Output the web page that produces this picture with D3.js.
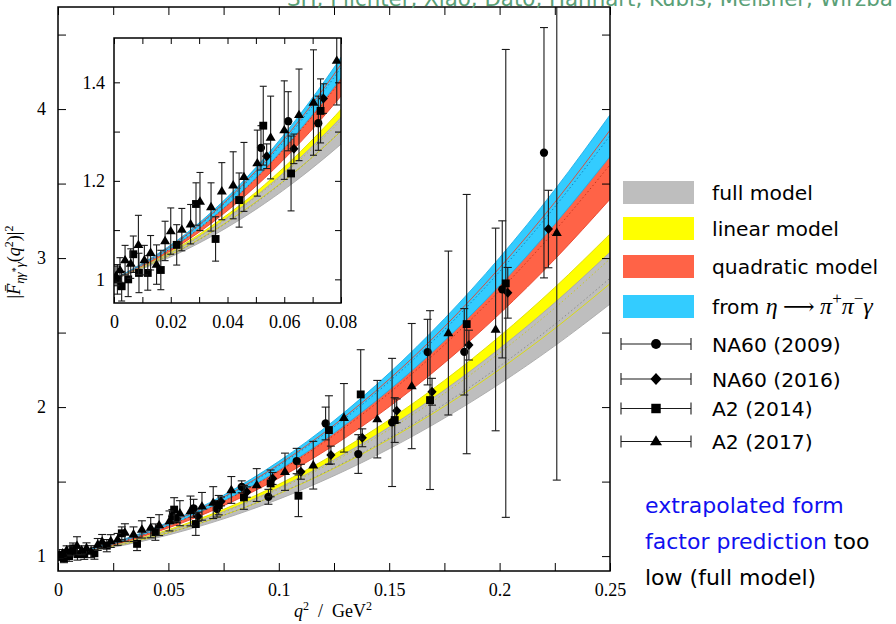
<!DOCTYPE html>
<meta charset="utf-8">
<title>eta transition form factor</title>
<style>

body {
  margin: 0;
  background: #fff;
  overflow: hidden;
}
svg { display: block; }
.tick text { font-family: "Liberation Serif", serif; font-size: 18px; fill: #000; }
.tick line { stroke: #000; stroke-width: 1; }

</style>
<body>
</body>
<script src="https://cdn.jsdelivr.net/npm/d3@7"></script>
<script>

var width = 896,
    height = 624;

// model bands, read at these q^2 values
var qGrid = [0, 0.025, 0.05, 0.075, 0.1, 0.125, 0.15, 0.175, 0.2, 0.225, 0.25];

// full model (grey)
var fullLo = [1, 1.059, 1.142, 1.250, 1.382, 1.539, 1.720, 1.926, 2.156, 2.411, 2.691];
var fullHi = [1, 1.070, 1.169, 1.299, 1.458, 1.647, 1.866, 2.114, 2.393, 2.701, 3.039];
// linear model (yellow)
var linLo = [1, 1.065, 1.157, 1.274, 1.418, 1.588, 1.784, 2.005, 2.253, 2.527, 2.828];
var linHi = [1, 1.073, 1.177, 1.314, 1.482, 1.683, 1.915, 2.179, 2.475, 2.803, 3.162];
// quadratic model (red)
var quadLo = [1, 1.076, 1.189, 1.338, 1.523, 1.744, 2.002, 2.296, 2.626, 2.992, 3.395];
var quadHi = [1, 1.088, 1.220, 1.396, 1.615, 1.879, 2.187, 2.539, 2.935, 3.374, 3.858];
// from eta -> pi+ pi- gamma (blue)
var dispLo = [1, 1.082, 1.206, 1.371, 1.577, 1.825, 2.114, 2.444, 2.815, 3.228, 3.682];
var dispHi = [1, 1.091, 1.227, 1.409, 1.636, 1.909, 2.228, 2.593, 3.003, 3.459, 3.961];

// data: [q^2, |F|^2, error]
var na60_2009 = [[0.0518,1.267,0.045],[0.0614,1.321,0.06],[0.0720,1.317,0.055],[0.0832,1.465,0.04],
  [0.0953,1.398,0.05],[0.1081,1.638,0.085],[0.1212,1.890,0.11],[0.1360,1.685,0.13],[0.1513,1.897,0.43],
  [0.1674,2.369,0.22],[0.1840,2.371,0.29],[0.2012,2.790,0.46],[0.2201,3.707,0.84]];
var na60_2016 = [[0.0538,1.250,0.025],[0.0634,1.265,0.03],[0.0738,1.367,0.03],[0.0855,1.430,0.035],
  [0.0972,1.521,0.04],[0.1100,1.566,0.05],[0.1236,1.678,0.06],[0.1378,1.794,0.06],[0.1534,1.975,0.08],
  [0.1694,2.103,0.09],[0.1861,2.416,0.10],[0.2037,2.767,0.17],[0.2221,3.195,0.26]];
var a2_2014 = [[0.0012,1.000,0.03],[0.0027,0.986,0.03],[0.0050,1.000,0.035],[0.0068,1.051,0.037],
  [0.0088,1.013,0.04],[0.0119,1.013,0.035],[0.0165,1.019,0.04],[0.0221,1.070,0.041],[0.0289,1.153,0.043],
  [0.0358,1.082,0.045],[0.0441,1.161,0.055],[0.0526,1.312,0.08],[0.0624,1.215,0.076],[0.0728,1.342,0.065],
  [0.0842,1.394,0.08],[0.0963,1.488,0.09],[0.1089,1.405,0.14],[0.1227,1.846,0.23],[0.1371,2.085,0.30],
  [0.1525,1.913,0.15],[0.1685,2.047,0.60],[0.1851,2.557,0.87],[0.2028,2.830,1.57]];
var a2_2017 = [[0.0007,1.007,0.02],[0.0021,1.019,0.025],[0.0039,1.039,0.03],[0.0059,1.032,0.03],
  [0.0086,1.070,0.06],[0.0107,1.039,0.03],[0.0129,1.054,0.035],[0.0150,1.030,0.04],[0.0180,1.078,0.04],
  [0.0200,1.098,0.047],[0.0239,1.101,0.043],[0.0270,1.112,0.04],[0.0303,1.158,0.059],[0.0342,1.147,0.049],
  [0.0380,1.179,0.058],[0.0420,1.191,0.068],[0.0458,1.208,0.07],[0.0505,1.236,0.067],[0.0552,1.288,0.084],
  [0.0600,1.303,0.10],[0.0652,1.334,0.093],[0.0703,1.359,0.107],[0.0785,1.444,0.09],[0.0900,1.477,0.11],
  [0.1028,1.566,0.125],[0.1156,1.610,0.16],[0.1295,1.928,0.23],[0.1446,1.919,0.26],[0.1602,2.141,0.42],
  [0.1768,2.497,0.55],[0.1982,2.521,0.68],[0.2259,3.170,1.66]];

var xTicks = [0, 0.05, 0.1, 0.15, 0.2, 0.25];
var xMinor = [0.025, 0.075, 0.125, 0.175, 0.225];
var yTicks = [1, 2, 3, 4];
var yMinor = [1.5, 2.5, 3.5, 4.5];
var ixTicks = [0, 0.02, 0.04, 0.06, 0.08];
var ixMinor = [0.01, 0.03, 0.05, 0.07];
var iyTicks = [1, 1.2, 1.4];
var iyMinor = [1.1, 1.3];

var bands = [
  {name: "linear model",    lo: linLo,  hi: linHi,  fill: "#ffff00", edge: "#dcdc00", mid: "#c8c830"},
  {name: "full model",      lo: fullLo, hi: fullHi, fill: "#bebebe", edge: "#a8a8a8", mid: "#8c8c8c"},
  {name: "quadratic model", lo: quadLo, hi: quadHi, fill: "#ff6347", edge: "#e8432a", mid: "#c8341e"},
  {name: "disp",            lo: dispLo, hi: dispHi, fill: "#33ccff", edge: "#1eaee6", mid: "#1680b8"}
];
bands.forEach(function(b) {
  b.rows = qGrid.map(function(q, i) { return {q: q, lo: b.lo[i], hi: b.hi[i]}; });
});

var sets = [
  {name: "NA60 (2009)", data: na60_2009, shape: "circle"},
  {name: "NA60 (2016)", data: na60_2016, shape: "diamond"},
  {name: "A2 (2014)",   data: a2_2014,   shape: "square"},
  {name: "A2 (2017)",   data: a2_2017,   shape: "triangle"}
];

var svg = d3.select("body").append("svg")
    .attr("width", width)
    .attr("height", height);

// main and inset scales
var x = d3.scaleLinear().domain([0, 0.25]).range([58, 610]);
var y = d3.scaleLinear().domain([0.9, 4.685]).range([571, 7]);
var xi = d3.scaleLinear().domain([0, 0.08]).range([114, 341]);
var yi = d3.scaleLinear().domain([0.952, 1.49]).range([303, 38]);

var defs = svg.append("defs");
function clip(id, xs, ys) {
  defs.append("clipPath").attr("id", id).append("rect")
      .attr("x", xs.range()[0]).attr("y", ys.range()[1])
      .attr("width", xs.range()[1] - xs.range()[0])
      .attr("height", ys.range()[0] - ys.range()[1]);
}
clip("clipMain", x, y);
clip("clipInset", xi, yi);

function shape(kind, s) {
  if (kind == "circle") return d3.symbol().type(d3.symbolCircle).size(Math.PI * 17 * s * s)();
  if (kind == "square") return d3.symbol().type(d3.symbolSquare).size(62 * s * s)();
  if (kind == "diamond") return "M0," + (-5 * s) + "L" + (4.6 * s) + ",0L0," + (5 * s) + "L" + (-4.6 * s) + ",0Z";
  return "M0," + (-5.2 * s) + "L" + (5 * s) + "," + (3.2 * s) + "L" + (-5 * s) + "," + (3.2 * s) + "Z";
}

function panel(g, xs, ys, maxQ, cap) {
  var area = d3.area().curve(d3.curveMonotoneX)
      .x(function(d) { return xs(d.q); })
      .y0(function(d) { return ys(d.lo); })
      .y1(function(d) { return ys(d.hi); });
  var line = function(key) {
    return d3.line().curve(d3.curveMonotoneX)
        .x(function(d) { return xs(d.q); })
        .y(function(d) { return key == "mid" ? ys((d.lo + d.hi) / 2) : ys(d[key]); });
  };

  bands.forEach(function(b) {
    g.append("path").datum(b.rows).attr("d", area).attr("fill", b.fill);
  });
  bands.forEach(function(b) {
    ["lo", "hi"].forEach(function(k) {
      g.append("path").datum(b.rows).attr("d", line(k))
          .attr("fill", "none").attr("stroke", b.edge).attr("stroke-width", 0.9);
    });
  });
  bands.forEach(function(b) {
    g.append("path").datum(b.rows).attr("d", line("mid"))
        .attr("fill", "none").attr("stroke", b.mid).attr("stroke-width", 1)
        .attr("stroke-dasharray", "1.5,2.5");
  });

  sets.forEach(function(s) {
    var pts = s.data.filter(function(d) { return d[0] <= maxQ; });
    var bars = g.append("g").attr("stroke", "#1a1a1a").attr("stroke-width", 1.1);
    pts.forEach(function(d) {
      var px = xs(d[0]), y0 = ys(d[1] - d[2]), y1 = ys(d[1] + d[2]);
      bars.append("line").attr("x1", px).attr("x2", px).attr("y1", y0).attr("y2", y1);
      bars.append("line").attr("x1", px - cap).attr("x2", px + cap).attr("y1", y0).attr("y2", y0);
      bars.append("line").attr("x1", px - cap).attr("x2", px + cap).attr("y1", y1).attr("y2", y1);
    });
    g.append("g").selectAll("path").data(pts).enter().append("path")
        .attr("d", shape(s.shape, 1))
        .attr("transform", function(d) { return "translate(" + xs(d[0]) + "," + ys(d[1]) + ")"; })
        .attr("fill", "#000");
  });
}

function axes(g, xs, ys, xt, xm, yt, ym, len, padX, padY) {
  var b = ys.range()[0], t = ys.range()[1], l = xs.range()[0], r = xs.range()[1];
  var fmt = d3.format("~g");
  g.append("g").attr("transform", "translate(0," + b + ")")
      .call(d3.axisBottom(xs).tickValues(xt).tickSize(-len).tickPadding(padX).tickFormat(fmt));
  g.append("g").attr("transform", "translate(0," + b + ")")
      .call(d3.axisBottom(xs).tickValues(xm).tickSize(-len).tickFormat(""));
  g.append("g").attr("transform", "translate(0," + t + ")")
      .call(d3.axisTop(xs).tickValues(xt.concat(xm)).tickSize(-len).tickFormat(""));
  g.append("g").attr("transform", "translate(" + l + ",0)")
      .call(d3.axisLeft(ys).tickValues(yt).tickSize(-len).tickPadding(padY).tickFormat(fmt));
  g.append("g").attr("transform", "translate(" + l + ",0)")
      .call(d3.axisLeft(ys).tickValues(ym).tickSize(-len).tickFormat(""));
  g.append("g").attr("transform", "translate(" + r + ",0)")
      .call(d3.axisRight(ys).tickValues(yt.concat(ym)).tickSize(-len).tickFormat(""));
  g.selectAll(".domain").remove();
  g.selectAll(".tick text").attr("font-family", null).attr("font-size", null);
  g.append("rect").attr("x", l).attr("y", t).attr("width", r - l).attr("height", b - t)
      .attr("fill", "none").attr("stroke", "#000").attr("stroke-width", 1.5);
}

// main plot
var main = svg.append("g");
panel(main.append("g").attr("clip-path", "url(#clipMain)"), x, y, 1, 4);
axes(main, x, y, xTicks, xMinor, yTicks, yMinor, 8, 12, 12);

// inset
var inset = svg.append("g");
inset.append("rect").attr("x", 114).attr("y", 38).attr("width", 227).attr("height", 265).attr("fill", "#fff");
panel(inset.append("g").attr("clip-path", "url(#clipInset)"), xi, yi, 0.09, 3.5);
axes(inset, xi, yi, ixTicks, ixMinor, iyTicks, iyMinor, 6, 12, 9);

// text helper: runs of tspans
function runs(sel, list) {
  list.forEach(function(r) {
    var ts = sel.append("tspan").text(r.t);
    if (r.it) ts.attr("font-style", "italic");
    if (r.size) ts.attr("font-size", r.size);
    if (r.dy) ts.attr("dy", r.dy);
    if (r.font) ts.attr("font-family", r.font);
  });
  return sel;
}

var serif = "'Liberation Serif', 'DejaVu Serif', serif";
var sans = "'DejaVu Sans', sans-serif";

// axis titles
runs(svg.append("text").attr("x", 333).attr("y", 617).attr("text-anchor", "middle")
    .attr("font-family", serif).attr("font-size", 18), [
  {t: "q", it: true}, {t: "2", size: 12, dy: -7}, {t: "\u2002/\u2002GeV", dy: 7}, {t: "2", size: 12, dy: -7}
]);
runs(svg.append("text").attr("transform", "translate(20,262) rotate(-90)").attr("text-anchor", "middle")
    .attr("font-family", serif).attr("font-size", 18), [
  {t: "|"}, {t: "F\u0304", it: true}, {t: "\u03b7\u03b3", it: true, size: 13, dy: 4},
  {t: "*", size: 10, dy: -5}, {t: "\u03b3", it: true, size: 13, dy: 5},
  {t: "(", size: 18, dy: -4}, {t: "q", it: true}, {t: "2", size: 12, dy: -7},
  {t: ")", size: 18, dy: 7}, {t: "|"}, {t: "2", size: 12, dy: -7}
]);

// legend: bands
var legend = svg.append("g").attr("font-family", sans).attr("font-size", 20.3);
var bandLegend = [
  {b: bands[1], top: 181, label: "full model"},
  {b: bands[0], top: 217, label: "linear model"},
  {b: bands[2], top: 255, label: "quadratic model"},
  {b: bands[3], top: 295, label: null}
];
bandLegend.forEach(function(d) {
  legend.append("rect").attr("x", 623).attr("y", d.top).attr("width", 71).attr("height", 23)
      .attr("fill", d.b.fill);
  var tx = legend.append("text").attr("x", 712).attr("y", d.top + 18.5);
  if (d.label) tx.text(d.label);
  else runs(tx, [
    {t: "from "}, {t: "\u03b7", it: true, font: serif, size: 24}, {t: " \u27f6 ", font: serif, size: 22},
    {t: "\u03c0", it: true, font: serif, size: 24}, {t: "+", font: serif, size: 17, dy: -10},
    {t: "\u03c0", it: true, font: serif, size: 24, dy: 10}, {t: "\u2212", font: serif, size: 17, dy: -10},
    {t: "\u03b3", it: true, font: serif, size: 24, dy: 10}
  ]);
});

// legend: data sets
var setRows = [344, 379, 408.5, 441.5];
sets.forEach(function(s, i) {
  var cy = setRows[i];
  var g = legend.append("g");
  g.append("line").attr("x1", 621).attr("x2", 691).attr("y1", cy).attr("y2", cy)
      .attr("stroke", "#1a1a1a").attr("stroke-width", 1.1);
  [621, 691].forEach(function(px) {
    g.append("line").attr("x1", px).attr("x2", px).attr("y1", cy - 6).attr("y2", cy + 6)
        .attr("stroke", "#1a1a1a").attr("stroke-width", 1.1);
  });
  g.append("path").attr("d", shape(s.shape, 1.2)).attr("transform", "translate(656," + cy + ")");
  legend.append("text").attr("x", 712).attr("y", cy + 7.5).text(s.name);
});

// annotation
var note = svg.append("g").attr("font-family", sans).attr("font-size", 22);
note.append("text").attr("x", 645).attr("y", 513).attr("fill", "#1010f0").text("extrapolated form");
runs(note.append("text").attr("x", 645).attr("y", 549), [
  {t: "factor prediction"}, {t: " too"}
]).selectAll("tspan").attr("fill", function(d, i) { return i == 0 ? "#1010f0" : "#000"; });
note.append("text").attr("x", 645).attr("y", 585).attr("fill", "#000").text("low (full model)");

// author line, cut by the top edge as in the slide
var auth = svg.append("text").attr("x", 287).attr("y", 6)
    .attr("font-family", sans).attr("font-size", 20).attr("fill", "#5aa077")
    .text("SH, Plichter, Xiao, Dato, Hanhart, Kubis, Mei\u00dfner, Wirzba");
var len = auth.node().getComputedTextLength();
auth.attr("font-size", 20 * 606 / len);

</script>
